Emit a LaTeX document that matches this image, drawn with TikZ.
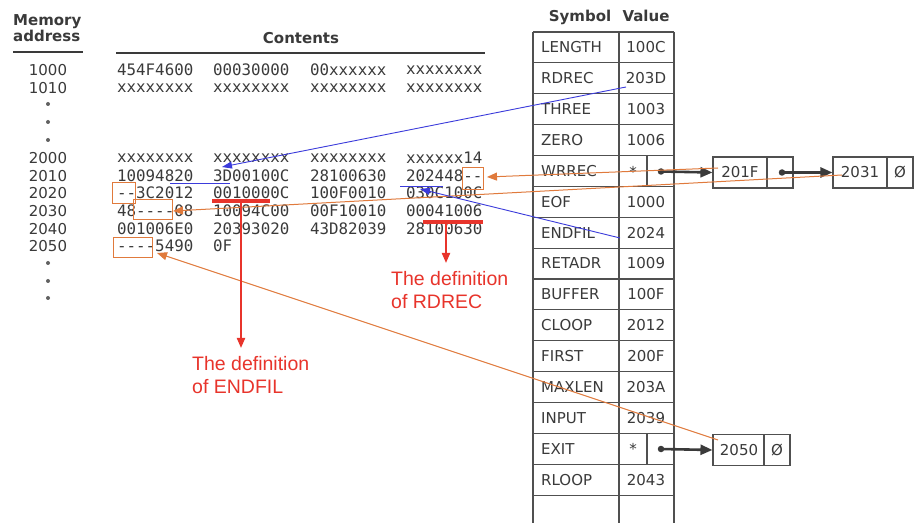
\documentclass[tikz,border=0pt]{standalone}
\usepackage{fontspec}
\setmainfont{DejaVu Sans}
\newfontfamily\monof{DejaVu Sans Mono}
\newfontfamily\redf{Liberation Sans}
\usetikzlibrary{arrows.meta,calc}
\definecolor{ink}{HTML}{3A3A3A}
\definecolor{grid}{HTML}{505050}
\definecolor{blu}{HTML}{3B3BDB}
\definecolor{org}{HTML}{E07A3C}
\definecolor{redann}{HTML}{E8342B}
\begin{document}
\begin{tikzpicture}[x=1pt,y=-1pt,
  hdr/.style={font=\fontsize{15}{17}\selectfont\bfseries, text=ink, inner sep=0},
  addr/.style={font=\fontsize{15}{16}\selectfont, text=ink, inner sep=0},
  cont/.style={font=\monof\fontsize{15.8}{16}\selectfont, text=ink, inner sep=0, anchor=west},
  sym/.style={font=\fontsize{15}{16}\selectfont, text=ink, inner sep=0, anchor=west},
  val/.style={font=\fontsize{15}{16}\selectfont, text=ink, inner sep=0},
  note/.style={font=\redf\fontsize{19.5}{23}\selectfont, text=redann, align=left, anchor=north west, inner sep=0},
  dotmark/.style={circle, fill=ink, inner sep=0, minimum size=6.5pt},
  vdot/.style={circle, fill=ink!80, inner sep=0, minimum size=4pt},
  rulel/.style={draw=ink, line width=1.2pt},
  gridl/.style={draw=grid, line width=1.1pt},
  lbox/.style={draw=grid, line width=1.1pt, minimum height=31pt, inner sep=0},
  ptr/.style={draw=ink, line width=2.6pt, -{Triangle[length=12pt,width=10pt]}},
  blueline/.style={draw=blu, line width=0.9pt},
  bluearrow/.style={draw=blu, line width=0.9pt, -{Triangle[length=10pt,width=7pt]}},
  orangearrow/.style={draw=org, line width=1pt, -{Triangle[length=10pt,width=8pt]}},
  obox/.style={draw=org, line width=1pt, inner sep=0},
  redbar/.style={draw=redann, line width=3.2pt},
  redarrow/.style={draw=redann, line width=2pt, -{Triangle[length=10pt,width=8pt]}}]
\useasboundingbox (0,0) rectangle (924,529);
\fill[white] (0,0) rectangle (924,529);

% ---------- headings ----------
\node[hdr, anchor=base west] (hmem) at (13,26) {Memory};
\node[hdr, anchor=base west] (hadr) at (13,42) {address};
\draw[rulel] (13,52) -- (83,52);
\node[hdr, anchor=base] (hcont) at (301,44) {Contents};
\draw[rulel] (116,53) -- (485,53);
\node[hdr, anchor=base] (hsym) at (580,22) {Symbol};
\node[hdr, anchor=base] (hval) at (646,22) {Value};

% ---------- addresses ----------
\node[addr] (a1000) at (48,70) {1000};
\node[addr] (a1010) at (48,88) {1010};
\node[vdot] (d1) at (48,104) {};
\node[vdot] (d2) at (48,122) {};
\node[vdot] (d3) at (48,140) {};
\node[addr] (a2000) at (48,158) {2000};
\node[addr] (a2010) at (48,176) {2010};
\node[addr] (a2020) at (48,193) {2020};
\node[addr] (a2030) at (48,211) {2030};
\node[addr] (a2040) at (48,229) {2040};
\node[addr] (a2050) at (48,246) {2050};
\node[vdot] (d4) at (48,263) {};
\node[vdot] (d5) at (48,281) {};
\node[vdot] (d6) at (48,298) {};

% ---------- contents ----------
\foreach \y/\r/\a/\b/\c/\d in {
  70/r1/454F4600/00030000/00xxxxxx/xxxxxxxx,
  88/r2/xxxxxxxx/xxxxxxxx/xxxxxxxx/xxxxxxxx,
  158/r3/xxxxxxxx/xxxxxxxx/xxxxxxxx/xxxxxx14,
  176/r4/10094820/3D00100C/28100630/202448--,
  193/r5/--3C2012/0010000C/100F0010/030C100C,
  211/r6/48----08/10094C00/00F10010/00041006,
  229/r7/001006E0/20393020/43D82039/28100630}{
  \node[cont] (\r a) at (117,\y) {\a};
  \node[cont] (\r b) at (213,\y) {\b};
  \node[cont] (\r c) at (310,\y) {\c};
  \node[cont] (\r d) at (406,\y) {\d};
}
\node[cont] (r8a) at (117,246) {----5490};
\node[cont] (r8b) at (213,246) {0F};

% ---------- symbol table ----------
\foreach \k in {0,...,15}{
  \draw[gridl] (533,32+30.87*\k) -- (674,32+30.87*\k);
}
\draw[gridl] (533,32) -- (533,523);
\draw[gridl] (619,32) -- (619,523);
\draw[gridl] (674,32) -- (674,523);
\draw[gridl] (647,32+30.87*4) -- (647,32+30.87*5);
\draw[gridl] (647,32+30.87*13) -- (647,32+30.87*14);
\foreach \s/\v [count=\i from 0] in {LENGTH/100C, RDREC/203D, THREE/1003, ZERO/1006,
  WRREC/, EOF/1000, ENDFIL/2024, RETADR/1009, BUFFER/100F, CLOOP/2012, FIRST/200F,
  MAXLEN/203A, INPUT/2039, EXIT/, RLOOP/2043}{
  \node[sym] (s\i) at (541,32+30.87*\i+15.4) {\s};
  \node[val] (v\i) at (646,32+30.87*\i+15.4) {\v};
}
\node[val] (wstar) at (633,171.5) {*};
\node[dotmark] (wdot) at (661,171.5) {};
\node[val] (estar) at (633,449) {*};
\node[dotmark] (edot) at (661,449) {};

% ---------- linked lists ----------
\node[lbox, minimum width=80pt] (b201F) at (753,172.5) {};
\draw[gridl] (767,157) -- (767,188);
\node[val] (t201F) at (740,172.5) {201F};
\node[dotmark] (fdot) at (782,172.5) {};
\node[lbox, minimum width=80pt] (b2031) at (873,172.5) {};
\draw[gridl] (887,157) -- (887,188);
\node[val] (t2031) at (860,172.5) {2031};
\node[val] (n2031) at (900,172.5) {Ø};
\node[lbox, minimum width=77pt] (b2050) at (751.5,450) {};
\draw[gridl] (764,435) -- (764,465);
\node[val] (t2050) at (739,450) {2050};
\node[val] (n2050) at (777,450) {Ø};

\draw[ptr] (wdot.center) -- (b201F.west);
\draw[ptr] (fdot.center) -- (b2031.west);
\draw[ptr] (edot.center) -- (b2050.west);

% ---------- orange marks ----------
\node[obox, minimum width=21pt, minimum height=22pt] (ob1) at (472.5,179) {};
\node[obox, minimum width=23pt, minimum height=21pt] (ob2) at (123.5,193.5) {};
\node[obox, minimum width=39pt, minimum height=20pt] (ob3) at (152.5,210) {};
\node[obox, minimum width=39pt, minimum height=20pt] (ob4) at (132.5,248) {};
\coordinate (o1s) at (718,168);
\coordinate (o2s) at (842,175);
\coordinate (o3s) at (718,440);
\coordinate (o1t) at (487,177);
\coordinate (o2t) at (173,211);
\coordinate (o3t) at (157,253);
\draw[orangearrow] (o1s) -- (o1t);
\draw[orangearrow] (o2s) -- (o2t);
\draw[orangearrow] (o3s) -- (o3t);

% ---------- blue marks ----------
\coordinate (bl1s) at (626,87);
\coordinate (bl1t) at (222,167);
\coordinate (bl2s) at (620,238);
\coordinate (bl2t) at (420,189);
\draw[bluearrow] (bl1s) -- (bl1t);
\draw[bluearrow] (bl2s) -- (bl2t);
\draw[blueline] (170,183) -- (230,183);
\draw[blueline] (400,186) -- (443,186);

% ---------- red annotations ----------
\draw[redbar] (212,201) -- (270,201);
\draw[redbar] (423,222) -- (483,222);
\node[note] (nend) at (192,356) {The definition\\of ENDFIL};
\node[note] (nrd) at (391,271) {The definition\\of RDREC};
\coordinate (rb1) at (241,201);
\coordinate (rb2) at (446,222);
\draw[redarrow] (rb1) -- (241,348);
\draw[redarrow] (rb2) -- (446,263);
\end{tikzpicture}
\end{document}
